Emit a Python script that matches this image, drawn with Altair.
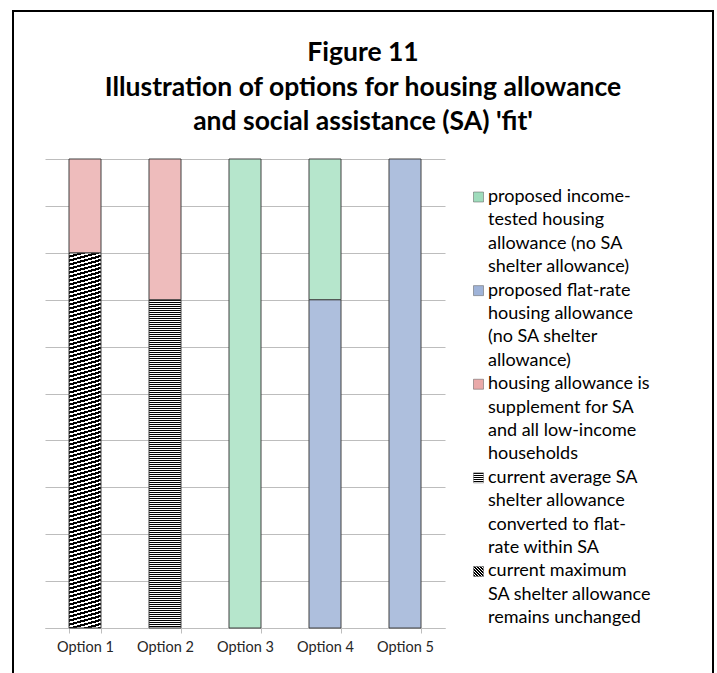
import altair as alt
import pandas as pd

# ---------------- data ----------------
title_lines = ["Figure 11", "Illustration of options for housing allowance",
               "and social assistance (SA) 'fit'"]
options = ["Option 1", "Option 2", "Option 3", "Option 4", "Option 5"]

# series in stacking order (bottom -> top)
series = [
    "current maximum SA shelter allowance remains unchanged",
    "current average SA shelter allowance converted to flat-rate within SA",
    "housing allowance is supplement for SA and all low-income households",
    "proposed flat-rate housing allowance (no SA shelter allowance)",
    "proposed income-tested housing allowance (no SA shelter allowance)",
]
v_diag = [8, 0, 0, 0, 0]
v_horiz = [0, 7, 0, 0, 0]
v_pink = [2, 3, 0, 0, 0]
v_blue = [0, 0, 0, 7, 10]
v_green = [0, 0, 10, 3, 0]
series_values = [v_diag, v_horiz, v_pink, v_blue, v_green]

# legend (top -> bottom) with the wrapped lines of the original
legend_order = [4, 3, 2, 1, 0]
legend_lines = {
    4: ["proposed income-", "tested housing", "allowance (no SA", "shelter allowance)"],
    3: ["proposed flat-rate", "housing allowance", "(no SA shelter", "allowance)"],
    2: ["housing allowance is", "supplement for SA", "and all low-income", "households"],
    1: ["current average SA", "shelter allowance", "converted to flat-", "rate within SA"],
    0: ["current maximum", "SA shelter allowance", "remains unchanged"],
}

y_max = 10

# ---------------- tables ----------------
rows = []
for si, (s, vals) in enumerate(zip(series, series_values)):
    for o, v in zip(options, vals):
        rows.append({"option": o, "series": s, "order": si, "value": v})
df = pd.DataFrame(rows)

lrows = []
k = 0
for si in legend_order:
    for j, t in enumerate(legend_lines[si]):
        lrows.append({"text": t, "line": k, "series": series[si], "first": j == 0})
        k += 1
ldf = pd.DataFrame(lrows)
n_lines = len(lrows)

# ---------------- styling ----------------
PLOT_W, PLOT_H = 400, 469
BAR_W = PLOT_W / len(options) * 0.4
PX_PER_UNIT = PLOT_H / y_max


def stripe_stops(n, frac, c1, c2):
    stops = []
    i = 0
    while i < n:
        a = min(i / n, 1)
        b = min((i + frac) / n, 1)
        c = min((i + 1) / n, 1)
        stops += [{"offset": a, "color": c1}, {"offset": b, "color": c1},
                  {"offset": b, "color": c2}, {"offset": c, "color": c2}]
        i += 1
    return stops


# Vega paints linear gradients on a unit square scaled uniformly ("slice"),
# so the square side is max(width, height) of the mark.
def diag_gradient(L, period=4.0, frac=0.55):
    n = 2 * L / period
    return {"gradient": "linear", "x1": 1, "y1": 0, "x2": 0, "y2": 1,
            "stops": stripe_stops(n, frac, "#000000", "#ffffff")}


def horiz_gradient(L, period=2.0, frac=0.55):
    n = L / period
    return {"gradient": "linear", "x1": 0, "y1": 0, "x2": 0, "y2": 1,
            "stops": stripe_stops(n, frac, "#000000", "#ffffff")}


H_diag = max(v_diag) * PX_PER_UNIT
H_horiz = max(v_horiz) * PX_PER_UNIT
SW = 10
bar_fills = [
    diag_gradient(max(H_diag, BAR_W)),
    horiz_gradient(max(H_horiz, BAR_W)),
    "#eebcbc",
    "#aebfdd",
    "#b6e6cc",
]
swatch_fills = [
    diag_gradient(SW, period=3.0),
    horiz_gradient(SW, period=2.0),
    "#e9a9a9",
    "#9fb3d8",
    "#9fdcbc",
]

FONT = "Lato"
x_scale = alt.Scale(domain=options, paddingInner=0.6, paddingOuter=0.3)
y_scale = alt.Scale(domain=[0, y_max], nice=False, zero=True)

base = alt.Chart(df)
bar_layers = []
for si, s in enumerate(series):
    if si == 0:
        enc_y = alt.Y("y0:Q", scale=y_scale,
                      axis=alt.Axis(values=list(range(y_max + 1)), grid=True, labels=False,
                                    ticks=False, domain=False, title=None,
                                    gridColor="#bdbdbd", gridWidth=1))
    else:
        enc_y = alt.Y("y0:Q", scale=y_scale)
    layer = base.transform_stack(
        stack="value", groupby=["option"], as_=["y0", "y1"],
        sort=[alt.SortField("order", order="ascending")]
    ).transform_filter(
        (alt.datum.series == s) & (alt.datum.value > 0)
    ).mark_bar(fill=bar_fills[si], stroke="#404040", strokeWidth=1, opacity=1).encode(
        x=alt.X("option:N", scale=x_scale, sort=options, title=None),
        y=enc_y,
        y2="y1:Q",
    )
    bar_layers.append(layer)

bars = alt.layer(*bar_layers)

leg_scale = alt.Scale(domain=[0, n_lines - 1], range=[38, 459.3], nice=False, zero=False)
lbase = alt.Chart(ldf)
leg_text = lbase.mark_text(align="left", baseline="middle", font=FONT, fontSize=18,
                           color="#000000").encode(
    x=alt.value(443),
    y=alt.Y("line:Q", scale=leg_scale, axis=None),
    text="text:N",
)
sw_layers = []
for si, s in enumerate(series):
    sw_layers.append(
        lbase.transform_filter((alt.datum.series == s) & alt.datum.first)
        .mark_square(size=SW * SW, fill=swatch_fills[si], stroke="#595959",
                     strokeWidth=0.5, opacity=1)
        .encode(x=alt.value(433.5), y=alt.Y("line:Q", scale=leg_scale, axis=None))
    )

one = pd.DataFrame({"f": [0]})
frame = alt.Chart(one).mark_rect(
    fillOpacity=0, stroke="#000000", strokeWidth=2
).encode(
    x=alt.value(-32), x2=alt.value(668), y=alt.value(-148), y2=alt.value(540),
)
title = alt.Chart(one).mark_text(
    text=title_lines, font=FONT, fontSize=26.5, fontWeight="bold", color="#000000",
    lineHeight=34.5, align="center", baseline="alphabetic",
).encode(x=alt.value(318), y=alt.value(-98))

legend = alt.layer(leg_text, *sw_layers, frame, title)

chart = alt.layer(bars, legend).resolve_scale(y="independent").properties(
    width=PLOT_W,
    height=PLOT_H,
    autosize=alt.AutoSizeParams(type="none"),
    padding={"left": 45, "top": 159, "right": 272, "bottom": 45},
    background="white",
).configure_view(strokeWidth=0).configure_axisX(
    labelAngle=0, tickBand="extent", domainColor="#bdbdbd", tickColor="#bdbdbd",
    tickSize=5, labelFont=FONT, labelFontSize=14.5, labelColor="#262626",
    labelPadding=7, grid=False,
)

chart.save("out.html", embed_options={"renderer": "svg", "actions": False})
